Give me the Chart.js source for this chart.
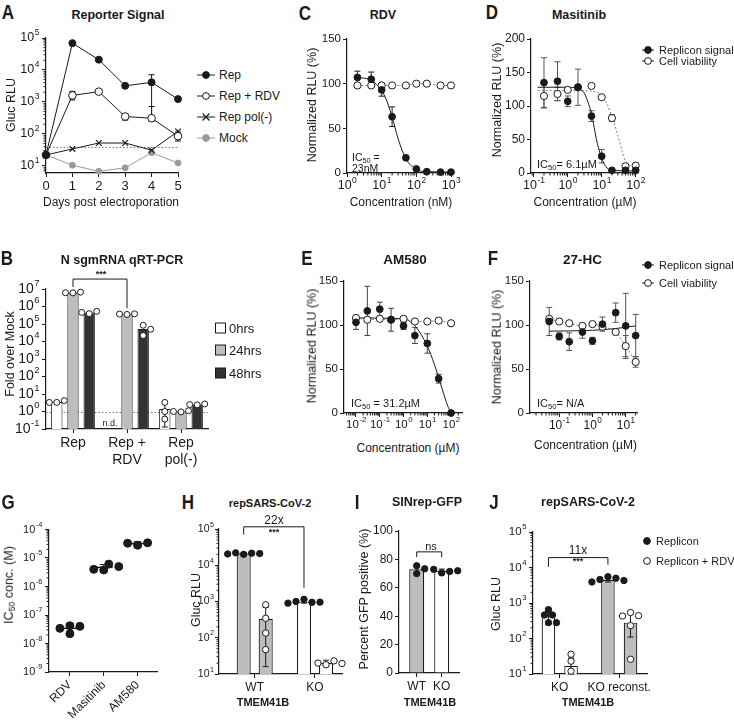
<!DOCTYPE html>
<html>
<head>
<meta charset="utf-8">
<title>Replicon figure</title>
<script src="https://cdn.jsdelivr.net/npm/chart.js@4.4.1/dist/chart.umd.min.js"></script>
<style>
  html, body { margin: 0; padding: 0; background: #fff; }
  body { position: relative; width: 734px; height: 728px; overflow: hidden;
         font-family: 'Liberation Sans', Arial, Helvetica, sans-serif; color: #1a1a1a; }
  canvas { position: absolute; }
  .c, .l, .r, .k { position: absolute; white-space: nowrap; line-height: 1; }
  .c { transform: translate(-50%, -50%); }
  .l { transform: translate(0, -50%); }
  .r { transform: translate(-50%, -50%) rotate(-90deg); }
  .k { transform: translate(-50%, -50%) scaleX(0.85); font-weight: bold; font-size: 20px; }
  .b { font-weight: bold; }
  sub { font-size: 0.7em; vertical-align: baseline; position: relative; top: 0.25em; line-height: 0; }
  svg { position: absolute; overflow: visible; }
</style>
</head>
<body>
<script>
// ---- A: reporter signal over days ----
const aDays = [0, 1, 2, 3, 4, 5];
const aRep = [22, 69000, 21000, 3200, 4100, 1230];
const aRepLo = [null, null, null, null, 250, null];
const aRepHi = [null, null, null, null, 7100, null];
const aRdv = [22, 1600, 2100, 350, 310, 85];
const aRdvLo = [null, 1150, null, 270, 270, 60];
const aRdvHi = [null, 2150, null, 420, 720, 115];
const aPol = [22, 34, 52, 52, 31, 120];
const aMock = [22, 10.5, 6.8, 8.7, 26, 12.3];
const aCutoff = 40;
const aYTicks = [10, 100, 1000, 10000, 100000];

// ---- B: N sgmRNA qRT-PCR ----
const bCats = [['Rep'], ['Rep +', 'RDV'], ['Rep', 'pol(-)']];
const b0h = [3.5, null, 1.4];
const b24h = [6.2e6, 3.6e5, 1.0];
const b48h = [4.5e5, 5.2e4, 2.5];
const b0hPts = [[3.3, 4.2, 3.3], null, [3.3, 1.0, 0.37]];
const b24hPts = [[6e6, 6.6e6, 6.1e6], [3.5e5, 3.8e5, 3.7e5], [0.95, 1.1, 1.0]];
const b48hPts = [[3.9e5, 5.3e5, 4.6e5], [8.5e4, 5e4, 2.2e4], [2.4, 2.7, 2.5]];
const b0hLo = [null, null, 0.13];
const b0hHi = [null, null, 3.5];
const bYTicks = [0.1, 1, 10, 100, 1e3, 1e4, 1e5, 1e6, 1e7];

// ---- C: RDV dose response ----
const cConc = [2, 5, 10, 20, 50, 100, 200, 500, 1000];
const cRep = [107, 105, 93, 63, 17, 4.5, 1.5, 1, 1];
const cRepSd = [7, 8, 7, 11, 2, 0, 0, 0, 0];
const cViab = [98, 98, 98, 98, 98, 100, 100, 98, 98];
const cFitX = [2, 5, 8, 12, 20, 30, 50, 100, 200, 1000];
const cFitY = [107, 104, 97, 87, 63, 38, 16, 4, 1.5, 1];
const cXTicks = [1, 10, 100, 1000];
const cYTicks = [0, 50, 100, 150];

// ---- D: Masitinib ----
const dConc = [0.2, 0.5, 1, 2, 5, 10, 20, 50, 100];
const dRep = [135, 137, 107, 128, 85, 25, 4, 4, 4];
const dRepSd = [37, 29, 8, 27, 8, 10, 0, 0, 0];
const dViab = [115, 118, 124, 128, 130, 113, 82, 10, 11];
const dViabSd = [18, 10, 0, 0, 0, 0, 5, 0, 0];
const dRepFitX = [0.13, 1, 2, 3, 4, 5, 6, 7, 8, 10, 13, 20, 100];
const dRepFitY = [128, 128, 126, 120, 105, 88, 68, 50, 38, 22, 10, 4, 3];
const dViabFitX = [0.13, 1, 5, 10, 15, 20, 30, 40, 50, 70, 100];
const dViabFitY = [123, 123, 122, 116, 101, 84, 56, 32, 18, 11, 10];
const dXTicks = [0.1, 1, 10, 100];
const dYTicks = [0, 50, 100, 150, 200];

// ---- E: AM580 ----
const eConc = [0.01, 0.03, 0.1, 0.3, 1, 3, 10, 30, 100];
const eRep = [103, 116, 118, 106, 99, 88, 79, 39, 0];
const eRepSd = [8, 28, 8, 13, 4, 9, 11, 5, 0];
const eViab = [108, 106, 107, 106, 107, 104, 104, 105, 102];
const eFitX = [0.01, 1, 3, 10, 20, 30, 50, 70, 100];
const eFitY = [108, 107, 99, 76, 55, 40, 21, 9, 0];
const eXTicks = [0.01, 0.1, 1, 10, 100];

// ---- F: 27-HC ----
const fConc = [0.05, 0.1, 0.2, 0.5, 1, 2, 5, 10, 20];
const fRep = [104, 87, 81, 92, 82, 101, 114, 99, 88];
const fRepSd = [16, 4, 10, 7, 4, 8, 11, 37, 24];
const fViab = [107, 104, 102, 99, 101, 98, 92, 76, 58];
const fViabSd = [0, 0, 0, 0, 0, 0, 0, 12, 6];
const fFitX = [0.05, 1, 5, 20];
const fFitY = [93, 94, 96, 99];
const fXTicks = [0.1, 1, 10];

// ---- G: IC50 summary ----
const gCats = ['RDV', 'Masitinib', 'AM580'];
const gMean = [3.4e-8, 4.7e-6, 3.2e-5];
const gLo = [2.1e-8, 3.5e-6, 2.6e-5];
const gHi = [4.9e-8, 5.9e-6, 3.7e-5];
const gReps = [[4.2e-8, 2.2e-8, 4e-8, 3.4e-8], [3.8e-6, 6.1e-6, 4e-6, 5e-6], [2.8e-5, 3.4e-5, 3.3e-5]];
const gYTicks = [1e-9, 1e-8, 1e-7, 1e-6, 1e-5, 1e-4];

// ---- H: repSARS-CoV-2 WT vs KO ----
const hCats = ['WT', 'KO'];
const hRep = [21000, 990];
const hRdv = [335, 20];
const hRepPts = [[20000, 21500, 22000, 21000, 20500], [1150, 950, 1000, 960, 900]];
const hRdvPts = [[810, 345, 135, 47], [18, 23, 20, 19.5]];
const hRepLo = [19500, 900], hRepHi = [22500, 1080];
const hRdvLo = [16, 17], hRdvHi = [690, 24];
const logTicks5 = [10, 100, 1000, 10000, 100000];

// ---- I: SINrep-GFP ----
const iCats = ['WT', 'KO'];
const iVal = [73, 72];
const iPts = [[75.5, 70, 73.4], [70.5, 71.5, 73, 72]];
const iSd = [3, 1.2];
const iYTicks = [0, 20, 40, 60, 80, 100];

// ---- J: repSARS-CoV-2 KO vs reconstituted ----
const jCats = ['KO', 'KO reconst.'];
const jRep = [420, 4500];
const jRdv = [17, 280];
const jRepPts = [[650, 460, 460, 280, 280], [5500, 5000, 4600, 4300, 3900]];
const jRdvPts = [[36, 23, 12], [540, 440, 430, 230, 26]];
const jRepLo = [280, 3900], jRepHi = [560, 5200];
const jRdvLo = [10, 110], jRdvHi = [28, 500];

const FONT = "'Liberation Sans', Arial, Helvetica, sans-serif";
const INK = '#1a1a1a';
const GREY = '#bdbdbd';
const MOCK = '#9b9b9b';

function minorTicks(majors, lo, hi) {
  const out = [];
  [majors[0] / 10].concat(majors).forEach(m => {
    for (let k = 2; k <= 9; k++) { const v = m * k; if (v > lo && v < hi) out.push(v); }
  });
  return out;
}
const pts = (xs, ys) => xs.map((x, i) => ({x: x, y: ys[i]}));
const noLabel = () => '';

function axis(o) {
  const ax = {
    type: o.type, offset: !!o.offset,
    ticks: {color: INK, font: {family: FONT, size: o.size || 12}, padding: 2, autoSkip: false,
            maxRotation: o.rot || 0, minRotation: o.rot || 0},
    grid: {display: true, drawOnChartArea: false, offset: false, tickLength: 4, tickColor: INK, tickWidth: 1},
    border: {display: true, color: INK, width: 1.2}
  };
  if (o.min !== undefined) ax.min = o.min;
  if (o.max !== undefined) ax.max = o.max;
  if (o.ticks) ax.afterBuildTicks = s => { s.ticks = o.ticks.map(v => ({value: v})); };
  if (o.fmt) ax.ticks.callback = o.fmt;
  return ax;
}

// "10" with a raised exponent, placed at a tick of a log axis
function drawPow(ctx, v, x, y, size, align) {
  const e = String(Math.round(Math.log10(v)));
  const small = size * 0.68;
  ctx.font = size + 'px ' + FONT;
  const w1 = ctx.measureText('10').width;
  ctx.font = small + 'px ' + FONT;
  const w2 = ctx.measureText(e).width;
  const x0 = align === 'right' ? x - w1 - w2 - 1 : x - (w1 + w2) / 2;
  ctx.textAlign = 'left';
  ctx.textBaseline = 'middle';
  ctx.fillStyle = INK;
  ctx.font = size + 'px ' + FONT;
  ctx.fillText('10', x0, y);
  ctx.font = small + 'px ' + FONT;
  ctx.fillText(e, x0 + w1 + 0.5, y - size * 0.42);
}

// error bars (sd or lo/hi), drawn behind markers for line charts
function errorBars(chart, first) {
  const ctx = chart.ctx;
  chart.data.datasets.forEach((ds, di) => {
    if (!ds.errLo && !ds.errSd) return;
    if (!!ds.errFirst !== first) return;
    const meta = chart.getDatasetMeta(di), ys = chart.scales[meta.yAxisID];
    ctx.save();
    ctx.strokeStyle = ds.errColor || INK;
    ctx.lineWidth = 1;
    meta.data.forEach((el, i) => {
      let lo, hi;
      if (ds.errSd) {
        if (!ds.errSd[i]) return;
        const d = ds.data[i], v = typeof d === 'object' ? d.y : d;
        lo = v - ds.errSd[i]; hi = v + ds.errSd[i];
      } else {
        if (ds.errLo[i] == null) return;
        lo = ds.errLo[i]; hi = ds.errHi[i];
      }
      const x = el.x, y1 = ys.getPixelForValue(lo), y2 = ys.getPixelForValue(hi), c = ds.cap || 3;
      ctx.beginPath();
      ctx.moveTo(x, y1); ctx.lineTo(x, y2);
      ctx.moveTo(x - c, y1); ctx.lineTo(x + c, y1);
      ctx.moveTo(x - c, y2); ctx.lineTo(x + c, y2);
      ctx.stroke();
    });
    ctx.restore();
  });
}

// replicate dots, nudged sideways only when they would overlap
function replicates(chart) {
  const ctx = chart.ctx;
  chart.data.datasets.forEach((ds, di) => {
    if (!ds.reps) return;
    const meta = chart.getDatasetMeta(di), ys = chart.scales[meta.yAxisID];
    const r = ds.repR || 3.2;
    meta.data.forEach((el, i) => {
      const vals = ds.reps[i];
      if (!vals) return;
      const placed = [];
      vals.forEach(v => {
        const py = ys.getPixelForValue(v);
        let px = el.x;
        for (let k = 0; k < 15; k++) {
          px = el.x + Math.ceil(k / 2) * (k % 2 ? 1 : -1) * r * 1.25;
          if (placed.every(p => Math.hypot(p[0] - px, p[1] - py) >= r * 1.9)) break;
        }
        placed.push([px, py]);
      });
      placed.forEach(p => {
        ctx.beginPath();
        ctx.arc(p[0], p[1], r, 0, Math.PI * 2);
        ctx.fillStyle = ds.repFill || INK;
        ctx.fill();
        ctx.lineWidth = 1;
        ctx.strokeStyle = INK;
        ctx.stroke();
      });
    });
  });
}

function marks(extra) {
  return {
    id: 'marks',
    beforeDatasetsDraw(chart) {
      const ctx = chart.ctx, ys = chart.scales.y, a = chart.chartArea;
      if (extra.cutoff != null) {
        const py = Math.round(ys.getPixelForValue(extra.cutoff)) + 0.5;
        ctx.save();
        ctx.setLineDash([1.5, 2]);
        ctx.strokeStyle = '#777';
        ctx.lineWidth = 1;
        ctx.beginPath(); ctx.moveTo(a.left, py); ctx.lineTo(a.right, py); ctx.stroke();
        ctx.restore();
      }
      errorBars(chart, true);
    },
    afterDatasetsDraw(chart) {
      errorBars(chart, false);
      replicates(chart);
      const ctx = chart.ctx, xs = chart.scales.x, ys = chart.scales.y, a = chart.chartArea;
      ctx.save();
      ctx.strokeStyle = INK;
      ctx.lineWidth = 1;
      (extra.brackets || []).forEach(b => {
        const xa = chart.getDatasetMeta(b.from[0]).data[b.from[1]].x;
        const xb = chart.getDatasetMeta(b.to[0]).data[b.to[1]].x;
        const y = ys.getPixelForValue(b.y), ya = ys.getPixelForValue(b.ya), yb = ys.getPixelForValue(b.yb);
        ctx.beginPath();
        ctx.moveTo(xa, ya); ctx.lineTo(xa, y); ctx.lineTo(xb, y); ctx.lineTo(xb, yb);
        ctx.stroke();
      });
      ctx.beginPath();
      (extra.minorY || []).forEach(v => {
        const py = ys.getPixelForValue(v);
        ctx.moveTo(a.left, py); ctx.lineTo(a.left - 2.5, py);
      });
      (extra.minorX || []).forEach(v => {
        const px = xs.getPixelForValue(v);
        ctx.moveTo(px, a.bottom); ctx.lineTo(px, a.bottom + 2.5);
      });
      ctx.stroke();
      if (extra.supY) ys.ticks.forEach(t => drawPow(ctx, t.value, a.left - (extra.supGap || 6), ys.getPixelForValue(t.value), extra.supY, 'right'));
      if (extra.supX) xs.ticks.forEach(t => drawPow(ctx, t.value, xs.getPixelForValue(t.value), a.bottom + 5 + extra.supX * 0.62, extra.supX, 'center'));
      ctx.restore();
    }
  };
}

// box = plot area in page pixels; yW / xH = room kept for tick labels
function panel(box, cfg, extra) {
  const pt = box.pt ?? 10, pr = box.pr ?? 10;
  const cv = document.createElement('canvas');
  cv.width = box.r - box.l + box.yW + pr;
  cv.height = box.b - box.t + pt + box.xH;
  cv.style.left = (box.l - box.yW) + 'px';
  cv.style.top = (box.t - pt) + 'px';
  document.body.appendChild(cv);
  const o = cfg.options;
  o.responsive = false;
  o.animation = false;
  o.events = [];
  o.layout = {padding: {top: pt, right: pr, left: 0, bottom: 0}};
  o.plugins = {legend: {display: false}, tooltip: {enabled: false}};
  o.scales.x.afterFit = s => { s.height = box.xH; s.paddingLeft = 0; s.paddingRight = 0; };
  o.scales.y.afterFit = s => { s.width = box.yW; s.paddingTop = 0; s.paddingBottom = 0; };
  cfg.data.datasets.forEach(d => { d.clip = false; });
  cfg.plugins = [marks(extra || {})];
  return new Chart(cv, cfg);
}

function put(cls, x, y, html, style) {
  const d = document.createElement('div');
  d.className = cls;
  d.style.left = x + 'px';
  d.style.top = y + 'px';
  if (style) d.style.cssText += style;
  d.innerHTML = html;
  document.body.appendChild(d);
}
function sym(x, y, w, inner) {
  const s = document.createElementNS('http://www.w3.org/2000/svg', 'svg');
  s.setAttribute('width', w); s.setAttribute('height', 12);
  s.style.left = x + 'px'; s.style.top = (y - 6) + 'px';
  s.innerHTML = inner;
  document.body.appendChild(s);
}
const LN = (w, c) => `<line x1="0" y1="6" x2="${w}" y2="6" stroke="${c || INK}" stroke-width="1"/>`;
const DOT = (cx, f, c) => `<circle cx="${cx}" cy="6" r="3.4" fill="${f}" stroke="${c || INK}" stroke-width="1"/>`;

// ================= A =================
panel({l: 46, r: 178, t: 38, b: 173, yW: 40, xH: 30}, {
  type: 'line',
  data: {datasets: [
    {data: pts(aDays, aRep), errLo: aRepLo, errHi: aRepHi, errFirst: true, borderColor: INK, backgroundColor: INK, borderWidth: 1, pointRadius: 3.5, pointBorderWidth: 1},
    {data: pts(aDays, aRdv), errLo: aRdvLo, errHi: aRdvHi, errFirst: true, borderColor: INK, backgroundColor: '#fff', borderWidth: 1, pointRadius: 3.8, pointBorderWidth: 1},
    {data: pts(aDays, aPol), borderColor: INK, backgroundColor: INK, borderWidth: 1, pointStyle: 'crossRot', pointRadius: 4, pointBorderWidth: 1.2},
    {data: pts(aDays, aMock), borderColor: MOCK, backgroundColor: MOCK, borderWidth: 1, pointRadius: 3, pointBorderWidth: 1}
  ]},
  options: {scales: {
    x: axis({type: 'linear', min: 0, max: 5, ticks: aDays, fmt: v => String(v), size: 13}),
    y: axis({type: 'logarithmic', min: 6, max: 1e5, ticks: aYTicks, fmt: noLabel})
  }}
}, {cutoff: aCutoff, minorY: minorTicks(aYTicks, 6, 1e5), supY: 12.5});

put('k', 7.5, 12, 'A');
put('c b', 118, 15, 'Reporter Signal', 'font-size:12.5px');
put('c', 111, 202, 'Days post electroporation', 'font-size:12px');
put('r', 11, 105, 'Gluc RLU', 'font-size:12.5px');
sym(197, 75, 18, LN(18) + DOT(9, INK));
sym(197, 96, 18, LN(18) + DOT(9, '#fff'));
sym(197, 117, 18, LN(18) + '<path d="M5.5 2.5 L12.5 9.5 M12.5 2.5 L5.5 9.5" stroke="#1a1a1a" stroke-width="1.2"/>');
sym(197, 137.5, 18, LN(18, MOCK) + DOT(9, MOCK, MOCK));
put('l', 219, 75, 'Rep', 'font-size:12px');
put('l', 219, 96, 'Rep + RDV', 'font-size:12px');
put('l', 219, 117, 'Rep pol(-)', 'font-size:12px');
put('l', 219, 137.5, 'Mock', 'font-size:12px');

// ================= B =================
panel({l: 46, r: 208, t: 289, b: 429, yW: 40, xH: 40, pt: 14}, {
  type: 'bar',
  data: {labels: bCats, datasets: [
    {data: b0h, reps: b0hPts, repFill: '#fff', repR: 3, errLo: b0hLo, errHi: b0hHi, backgroundColor: '#fff', borderColor: INK, borderWidth: 1},
    {data: b24h, reps: b24hPts, repFill: '#fff', repR: 3, backgroundColor: GREY, borderColor: INK, borderWidth: 1},
    {data: b48h, reps: b48hPts, repFill: '#fff', repR: 3, backgroundColor: '#333', borderColor: INK, borderWidth: 1}
  ]},
  options: {
    datasets: {bar: {categoryPercentage: 0.9, barPercentage: 0.7}},
    scales: {
      x: axis({type: 'category', offset: true, size: 14}),
      y: axis({type: 'logarithmic', min: 0.1, max: 1e7, ticks: bYTicks, fmt: noLabel})
    }
  }
}, {cutoff: 1, supY: 14, brackets: [{from: [1, 0], to: [1, 1], y: 3.7e7, ya: 1.3e7, yb: 8e5}]});

put('k', 7, 257.5, 'B');
put('c b', 122, 260, 'N sgmRNA qRT-PCR', 'font-size:12.5px');
put('r', 10, 354, 'Fold over Mock', 'font-size:12.5px');
put('c b', 101, 274, '***', 'font-size:9px');
put('c', 110, 423, 'n.d.', 'font-size:9px');
sym(215, 327.5, 11, '<rect x="0.5" y="1" width="10" height="10" fill="#fff" stroke="#1a1a1a"/>');
sym(215, 350, 11, '<rect x="0.5" y="1" width="10" height="10" fill="' + GREY + '" stroke="#1a1a1a"/>');
sym(215, 373, 11, '<rect x="0.5" y="1" width="10" height="10" fill="#333" stroke="#1a1a1a"/>');
put('l', 229, 328, '0hrs', 'font-size:13px');
put('l', 229, 350, '24hrs', 'font-size:13px');
put('l', 229, 373, '48hrs', 'font-size:13px');

// ================= C =================
panel({l: 347, r: 451, t: 39, b: 173, yW: 34, xH: 28}, {
  type: 'line',
  data: {datasets: [
    {data: pts(cConc, cRep), errSd: cRepSd, errFirst: true, showLine: false, borderColor: INK, backgroundColor: INK, pointRadius: 3.4},
    {data: pts(cConc, cViab), borderColor: '#777', borderDash: [2, 2], borderWidth: 1, backgroundColor: '#fff', pointBorderColor: INK, pointRadius: 3.6, pointBorderWidth: 1},
    {data: pts(cFitX, cFitY), borderColor: INK, borderWidth: 1, pointRadius: 0, cubicInterpolationMode: 'monotone'}
  ]},
  options: {scales: {
    x: axis({type: 'logarithmic', min: 1, max: 1000, ticks: cXTicks, fmt: noLabel}),
    y: axis({type: 'linear', min: 0, max: 150, ticks: cYTicks, fmt: v => String(v), size: 11.5})
  }}
}, {minorX: minorTicks(cXTicks, 1, 1000), supX: 12.5});

put('k', 305, 13, 'C');
put('c b', 383, 15, 'RDV', 'font-size:12.5px');
put('r', 312, 105, 'Normalized RLU (%)', 'font-size:12.5px');
put('c', 401, 202, 'Concentration (nM)', 'font-size:12px');
put('l', 352, 157, 'IC<sub>50</sub> =', 'font-size:10.5px');
put('l', 352, 168, '23nM', 'font-size:10.5px');

// ================= D =================
panel({l: 531, r: 638, t: 39, b: 173, yW: 34, xH: 28}, {
  type: 'line',
  data: {datasets: [
    {data: pts(dConc, dRep), errSd: dRepSd, errFirst: true, errColor: '#555', showLine: false, borderColor: INK, backgroundColor: INK, pointRadius: 3.4},
    {data: pts(dConc, dViab), errSd: dViabSd, errFirst: true, errColor: '#555', showLine: false, borderColor: INK, backgroundColor: '#fff', pointRadius: 3.6, pointBorderWidth: 1},
    {data: pts(dRepFitX, dRepFitY), borderColor: INK, borderWidth: 1, pointRadius: 0, cubicInterpolationMode: 'monotone'},
    {data: pts(dViabFitX, dViabFitY), borderColor: '#777', borderDash: [2, 2], borderWidth: 1, pointRadius: 0, cubicInterpolationMode: 'monotone'}
  ]},
  options: {scales: {
    x: axis({type: 'logarithmic', min: 0.083, max: 117, ticks: dXTicks, fmt: noLabel}),
    y: axis({type: 'linear', min: 0, max: 200, ticks: dYTicks, fmt: v => String(v), size: 12})
  }}
}, {minorX: minorTicks(dXTicks, 0.083, 117), supX: 12.5});

put('k', 492, 12, 'D');
put('c b', 579, 15, 'Masitinib', 'font-size:12.5px');
put('r', 497, 100, 'Normalized RLU (%)', 'font-size:12.5px');
put('c', 585, 202, 'Concentration (µM)', 'font-size:12px');
put('l', 537, 164, 'IC<sub>50</sub>= 6.1µM', 'font-size:11px');
sym(642, 50, 12, LN(12) + DOT(6, INK));
sym(642, 61, 12, LN(12) + DOT(6, '#fff'));
put('l', 659, 50, 'Replicon signal', 'font-size:11px');
put('l', 659, 61, 'Cell viability', 'font-size:11px');

// ================= E =================
panel({l: 344, r: 462, t: 281, b: 413, yW: 34, xH: 28}, {
  type: 'line',
  data: {datasets: [
    {data: pts(eConc, eRep), errSd: eRepSd, errFirst: true, errColor: '#444', showLine: false, borderColor: INK, backgroundColor: INK, pointRadius: 3.4},
    {data: pts(eConc, eViab), borderColor: '#777', borderDash: [2, 2], borderWidth: 1, backgroundColor: '#fff', pointBorderColor: INK, pointRadius: 3.6, pointBorderWidth: 1},
    {data: pts(eFitX, eFitY), borderColor: INK, borderWidth: 1, pointRadius: 0, cubicInterpolationMode: 'monotone'}
  ]},
  options: {scales: {
    x: axis({type: 'logarithmic', min: 0.00313, max: 288, ticks: eXTicks, fmt: noLabel}),
    y: axis({type: 'linear', min: 0, max: 150, ticks: cYTicks, fmt: v => String(v), size: 11.5})
  }}
}, {minorX: minorTicks(eXTicks, 0.00313, 288), supX: 11.5});

put('k', 306.5, 257.5, 'E');
put('c b', 405, 260, 'AM580', 'font-size:13.5px');
put('r', 312, 346, 'Normalized RLU (%)', 'font-size:12.5px');
put('c', 408, 448, 'Concentration (µM)', 'font-size:12px');
put('l', 351, 403, 'IC<sub>50</sub> = 31.2µM', 'font-size:11px');

// ================= F =================
panel({l: 530, r: 637, t: 281, b: 413, yW: 34, xH: 28}, {
  type: 'line',
  data: {datasets: [
    {data: pts(fConc, fRep), errSd: fRepSd, errFirst: true, errColor: '#555', showLine: false, borderColor: INK, backgroundColor: INK, pointRadius: 3.4},
    {data: pts(fConc, fViab), errSd: fViabSd, errFirst: true, errColor: '#555', borderColor: '#777', borderDash: [2, 2], borderWidth: 1, backgroundColor: '#fff', pointBorderColor: INK, pointRadius: 3.6, pointBorderWidth: 1, cubicInterpolationMode: 'monotone'},
    {data: pts(fFitX, fFitY), borderColor: INK, borderWidth: 1, pointRadius: 0, cubicInterpolationMode: 'monotone'}
  ]},
  options: {scales: {
    x: axis({type: 'logarithmic', min: 0.0132, max: 21.9, ticks: fXTicks, fmt: noLabel}),
    y: axis({type: 'linear', min: 0, max: 150, ticks: cYTicks, fmt: v => String(v), size: 11.5})
  }}
}, {minorX: minorTicks(fXTicks, 0.0132, 21.9), supX: 12});

put('k', 493, 257.5, 'F');
put('c b', 582.5, 260, '27-HC', 'font-size:13.5px');
put('r', 497, 347, 'Normalized RLU (%)', 'font-size:12.5px');
put('c', 585.5, 445, 'Concentration (µM)', 'font-size:12px');
put('l', 537, 403, 'IC<sub>50</sub>= N/A', 'font-size:11px');
sym(642, 265, 12, LN(12) + DOT(6, INK));
sym(642, 283, 12, LN(12) + DOT(6, '#fff'));
put('l', 659, 265, 'Replicon signal', 'font-size:11px');
put('l', 659, 283, 'Cell viability', 'font-size:11px');

// ================= G =================
panel({l: 49, r: 158, t: 529, b: 672, yW: 40, xH: 54}, {
  type: 'scatter',
  data: {datasets: [
    {data: pts([0, 1, 2], gMean), errLo: gLo, errHi: gHi, cap: 4, reps: gReps, repFill: INK, repR: 4,
     pointStyle: 'line', pointRadius: 9, borderColor: INK, backgroundColor: INK, borderWidth: 1.5}
  ]},
  options: {scales: {
    x: axis({type: 'linear', min: -0.618, max: 2.588, ticks: [0, 1, 2], fmt: v => gCats[v], size: 12, rot: 45}),
    y: axis({type: 'logarithmic', min: 1e-9, max: 1e-4, ticks: gYTicks, fmt: noLabel})
  }}
}, {minorY: minorTicks(gYTicks, 1e-9, 1e-4), supY: 11});

put('k', 8, 502, 'G');
put('r', 9, 585, 'IC<sub>50</sub> conc. (M)', 'font-size:12.5px');

// ================= H =================
panel({l: 219, r: 342, t: 529, b: 674, yW: 36, xH: 26}, {
  type: 'bar',
  data: {datasets: [
    {data: pts([0, 1], hRep), backgroundColor: [GREY, '#fff'], borderColor: INK, borderWidth: 1.2, reps: hRepPts, repFill: INK, errLo: hRepLo, errHi: hRepHi},
    {data: pts([0, 1], hRdv), backgroundColor: [GREY, '#fff'], borderColor: INK, borderWidth: 1.2, reps: hRdvPts, repFill: '#fff', errLo: hRdvLo, errHi: hRdvHi}
  ]},
  options: {
    datasets: {bar: {categoryPercentage: 0.73, barPercentage: 0.64}},
    scales: {
      x: axis({type: 'linear', min: -0.592, max: 1.448, ticks: [0, 1], fmt: v => hCats[v], size: 12}),
      y: axis({type: 'logarithmic', min: 10, max: 1e5, ticks: logTicks5, fmt: noLabel})
    }
  }
}, {minorY: minorTicks(logTicks5, 10, 1e5), supY: 10.5, supGap: 4.5, brackets: [{from: [0, 0], to: [0, 1], y: 1.15e5, ya: 7e4, yb: 2.4e3}]});

put('k', 187.5, 502, 'H');
put('c b', 270, 503, 'repSARS-CoV-2', 'font-size:11px');
put('r', 196, 600, 'Gluc RLU', 'font-size:12.5px');
put('c', 274, 520, '22x', 'font-size:12px');
put('c b', 274, 532, '***', 'font-size:9px');
put('c b', 263, 702, 'TMEM41B', 'font-size:11px');

// ================= I =================
panel({l: 399, r: 459, t: 531, b: 673, yW: 36, xH: 26}, {
  type: 'bar',
  data: {datasets: [
    {data: pts([0, 1], iVal), backgroundColor: [GREY, '#fff'], borderColor: INK, borderWidth: 1.2, reps: iPts, repFill: INK, errSd: iSd}
  ]},
  options: {
    datasets: {bar: {categoryPercentage: 1, barPercentage: 0.6}},
    scales: {
      x: axis({type: 'linear', min: -0.708, max: 1.692, ticks: [0, 1], fmt: v => iCats[v], size: 12}),
      y: axis({type: 'linear', min: 0, max: 100, ticks: iYTicks, fmt: v => String(v), size: 12})
    }
  }
}, {brackets: [{from: [0, 0], to: [0, 1], y: 85.3, ya: 81.6, yb: 81.6}]});

put('k', 357, 502, 'I');
put('c b', 427, 502, 'SINrep-GFP', 'font-size:12.5px');
put('r', 364, 599, 'Percent GFP positive (%)', 'font-size:12.5px');
put('c', 431, 546, 'ns', 'font-size:11px');
put('c b', 430, 702, 'TMEM41B', 'font-size:11px');

// ================= J =================
panel({l: 533, r: 647, t: 532, b: 674, yW: 36, xH: 26}, {
  type: 'bar',
  data: {datasets: [
    {data: pts([0, 1], jRep), backgroundColor: ['#fff', GREY], borderColor: INK, borderWidth: 1.2, reps: jRepPts, repFill: INK, errLo: jRepLo, errHi: jRepHi},
    {data: pts([0, 1], jRdv), backgroundColor: ['#fff', GREY], borderColor: INK, borderWidth: 1.2, reps: jRdvPts, repFill: '#fff', errLo: jRdvLo, errHi: jRdvHi}
  ]},
  options: {
    datasets: {bar: {categoryPercentage: 0.76, barPercentage: 0.6}},
    scales: {
      x: axis({type: 'linear', min: -0.45, max: 1.467, ticks: [0, 1], fmt: v => jCats[v], size: 12}),
      y: axis({type: 'logarithmic', min: 10, max: 1e5, ticks: logTicks5, fmt: noLabel})
    }
  }
}, {minorY: minorTicks(logTicks5, 10, 1e5), supY: 11.5, brackets: [{from: [0, 0], to: [0, 1], y: 1.9e4, ya: 1.05e4, yb: 1.2e4}]});

put('k', 494, 502, 'J');
put('c b', 588, 502, 'repSARS-CoV-2', 'font-size:12.5px');
put('r', 496, 604, 'Gluc RLU', 'font-size:12.5px');
put('c', 578, 550, '11x', 'font-size:12px');
put('c b', 578, 561, '***', 'font-size:9px');
put('c b', 588, 702, 'TMEM41B', 'font-size:11px');
sym(643, 541, 8, DOT(4, INK));
sym(643, 560.5, 8, DOT(4, '#fff'));
put('l', 656, 541, 'Replicon', 'font-size:11px');
put('l', 656, 560.5, 'Replicon + RDV', 'font-size:11px');
</script>
</body>
</html>
